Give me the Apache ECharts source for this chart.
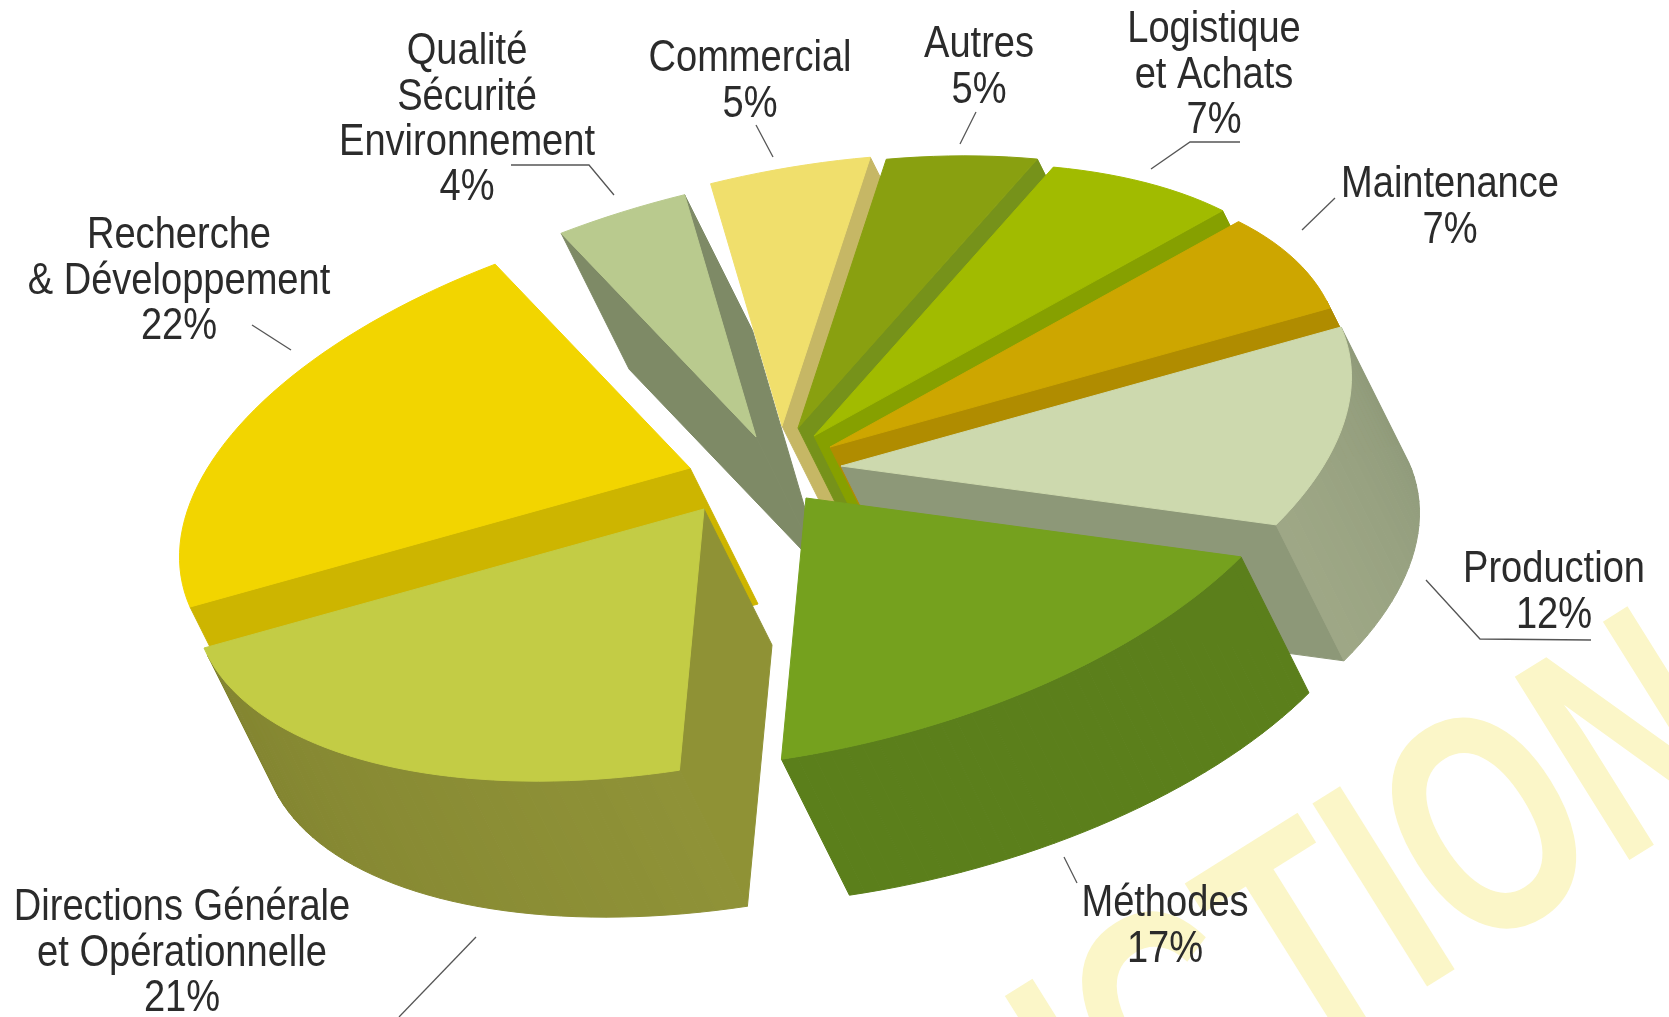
<!DOCTYPE html>
<html>
<head>
<meta charset="utf-8">
<style>html,body{margin:0;padding:0;background:#fff}#main{width:1669px;height:1017px}</style>
<script src="https://cdn.jsdelivr.net/npm/echarts@6/dist/echarts.min.js"></script>
</head>
<body>
<div id="main"></div>
<script>
// clockwise, starting at the right hand edge of Production
var categories=["Production","Méthodes","Directions Générale\net Opérationnelle","Recherche\n& Développement","Qualité\nSécurité\nEnvironnement","Commercial","Autres","Logistique\net Achats","Maintenance"]
var values=[12,17,21,22,4,5,5,7,7]

var topColors=["#cdd9ae","#75a11e","#c3cc45","#f2d500","#b9ca8e","#f0df6c","#89a010","#a1bb00","#cda600"]
var wallColors=["#8d9878","#5b7f1b","#8f9235","#cdb500","#7e8a66","#c6b765","#76921a","#86a000","#b08c00"]
var arcStart=["#8f9a7a","#5b7f1b","#8f9237","#cdb500","#7e8a66","#c6b765","#76921a","#86a000","#b08c00"]
var arcEnd=["#9fa886","#5b7f1b","#828430","#cdb500","#7e8a66","#c6b765","#76921a","#86a000","#b08c00"]

// back to front
var drawOrder=[4,5,6,7,8,0,1,3,2]

// ellipse axes of the tilted disc, and the extrusion vector
var axisA=[500,-139]
var axisB=[103,234]
var depth=[68,136]
var center=[800,470]
// how far each slice is pulled out of the centre
var explode=[[41,-4],[6,28],[-96,39],[-110,-2],[-44,-33],[-18,-44],[-2,-42],[14,-34],[30,-23]]

// label layout: x, y of first line centre
var labelPos=[[1554,570],[1165,904],[182,908],[179,236],[467,52],[750,59],[979,45],[1214,30],[1450,185]]
var leaders=[
	[[1426,580],[1480,639],[1591,640]],
	[[1064,857],[1077,883]],
	[[476,937],[399,1017]],
	[[252,325],[291,350]],
	[[511,165],[589,165],[614,195]],
	[[756,125],[773,157]],
	[[976,112],[960,144]],
	[[1240,142],[1190,142],[1151,169]],
	[[1335,198],[1302,230]]
]
var lineH=45.4
var font='44px "Liberation Sans"'

var total=0
for(var i=0;i<values.length;i++){total+=values[i]}
var starts=[]
var acc=0
for(var i=0;i<values.length;i++){starts[i]=acc/total*Math.PI*2;acc+=values[i]}

function rim(t,tip){
	return [tip[0]+Math.cos(t)*axisA[0]+Math.sin(t)*axisB[0],tip[1]+Math.cos(t)*axisA[1]+Math.sin(t)*axisB[1]]
}
function drop(p){return [p[0]+depth[0],p[1]+depth[1]]}
function cross(a,b,c){return (b[0]-a[0])*(c[1]-a[1])-(b[1]-a[1])*(c[0]-a[0])}
// a wall shows only if the top face and the extrusion lie on opposite sides of its edge
function showsWall(a,b,inner){
	var dp=[a[0]+depth[0],a[1]+depth[1]]
	return cross(a,b,dp)*cross(a,b,inner)<0
}
function quad(a,b,color){
	return {type:'polygon',shape:{points:[a,b,drop(b),drop(a)]},style:{fill:color,stroke:color,lineWidth:1}}
}
function mix(c1,c2,f){
	var a=echarts.color.parse(c1),b=echarts.color.parse(c2)
	return 'rgb('+Math.round(a[0]+(b[0]-a[0])*f)+','+Math.round(a[1]+(b[1]-a[1])*f)+','+Math.round(a[2]+(b[2]-a[2])*f)+')'
}

function renderSlice(params,api){
	var k=api.value(0)
	var t0=starts[k]
	var t1=t0+values[k]/total*Math.PI*2
	var tip=[center[0]+explode[k][0],center[1]+explode[k][1]]
	var steps=Math.max(8,values[k]*2)
	var arc=[]
	for(var s=0;s<=steps;s++){arc.push(rim(t0+(t1-t0)*s/steps,tip))}
	var mid=arc[Math.round(steps/2)]
	var inner=[(tip[0]+mid[0])/2,(tip[1]+mid[1])/2]
	var out=[]
	if(showsWall(tip,arc[0],inner)){out.push(quad(tip,arc[0],wallColors[k]))}
	if(showsWall(tip,arc[steps],inner)){out.push(quad(tip,arc[steps],wallColors[k]))}
	for(var s=0;s<steps;s++){
		if(showsWall(arc[s],arc[s+1],tip)){out.push(quad(arc[s],arc[s+1],mix(arcStart[k],arcEnd[k],s/steps)))}
	}
	out.push({type:'polygon',shape:{points:[tip].concat(arc)},style:{fill:topColors[k],stroke:topColors[k],lineWidth:1}})
	return {type:'group',children:out}
}

var graphics=[{
	type:'text',z:-10,x:1709,y:708,rotation:Math.PI*0.178,scaleX:0.72,
	style:{text:'PRODUCTION',textAlign:'right',textVerticalAlign:'middle',fill:'#fbf6c8',font:'bold 314px "Liberation Sans"'}
}]
for(var i=0;i<categories.length;i++){
	graphics.push({
		type:'text',z:20,x:labelPos[i][0],y:labelPos[i][1]-lineH/2,scaleX:0.865,
		style:{text:categories[i]+'\n'+values[i]+'%',textAlign:'center',textVerticalAlign:'top',fill:'#2b2b2b',font:font,lineHeight:lineH}
	})
	graphics.push({
		type:'polyline',z:19,shape:{points:leaders[i]},
		style:{fill:'none',stroke:'#555',lineWidth:1.3}
	})
}

var mychart=echarts.init(document.getElementById('main'))
var option={
	backgroundColor:'#fff',
	animation:false,
	graphic:graphics,
	series:[{
		type:'custom',
		coordinateSystem:'none',
		silent:true,
		renderItem:renderSlice,
		encode:{value:0},
		data:drawOrder.map(function(k){return {name:categories[k],value:[k,values[k]]}})
	}]
}
mychart.setOption(option)
</script>
</body>
</html>
